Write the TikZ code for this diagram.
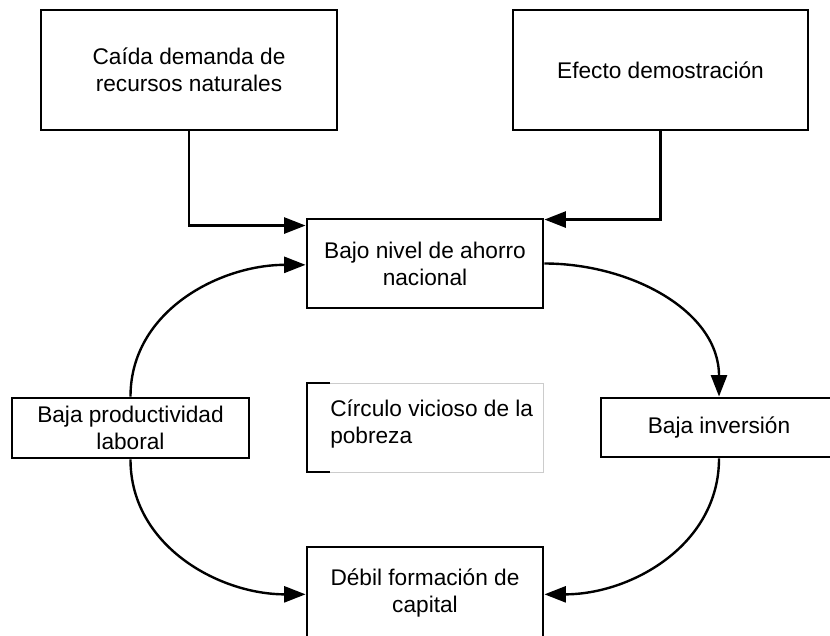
\documentclass[tikz,border=0pt]{standalone}
\usepackage{fontspec}
\setmainfont{Liberation Sans}
\usetikzlibrary{arrows.meta}

\tikzset{
	caja/.style={draw, line width=2.2pt, align=center, inner sep=0pt,
		minimum width=177pt, minimum height=66.75pt,
		font=\fontsize{17}{20.3}\selectfont},
	flecha/.style={line width=1.8pt, -{Triangle[length=16pt,width=12pt]}},
	marco/.style={draw=gray!40, line width=0.6pt},
}

\begin{document}
\begin{tikzpicture}[x=0.75pt, y=-0.75pt]
	\useasboundingbox (0,0) rectangle (830,635);

	\node[caja, minimum width=222pt, minimum height=90pt] (caida) at (189,70) {Caída demanda de\\recursos naturales};
	\node[caja, minimum width=221.25pt, minimum height=90pt] (efecto) at (660.5,70) {Efecto demostración};
	\node[caja] (ahorro) at (425,263.5) {Bajo nivel de ahorro\\nacional};
	\node[caja, minimum width=177.75pt, minimum height=45pt] (productividad) at (130.5,428) {Baja productividad\\laboral};
	\node[caja, minimum height=44.25pt] (inversion) at (719,427.5) {Baja inversión};
	\node[caja, minimum height=69pt] (capital) at (425,593) {Débil formación de\\capital};

	\node[anchor=west, align=left, inner sep=0pt, font=\fontsize{17}{20.3}\selectfont] (circulo) at (330,424) {Círculo vicioso de la\\pobreza};
	\draw[marco] (330,383) -- (543,383) -- (543,472) -- (330,472);
	\draw[line width=2pt] (330,383) -- (307,383) -- (307,472) -- (330,472);

	\draw[flecha] (caida.south) |- ([yshift=-6pt]ahorro.north west);
	\draw[flecha] (efecto.south) |- ([yshift=-1.5pt]ahorro.north east);
	\draw[flecha] (productividad.north) to[out=90, in=180] ([yshift=-1pt]ahorro.west);
	\draw[flecha] (ahorro.east) to[out=0, in=90] (inversion.north);
	\draw[flecha] (productividad.south) to[out=-90, in=180] ([yshift=-1pt]capital.west);
	\draw[flecha] (inversion.south) to[out=-90, in=0] ([yshift=-1pt]capital.east);
\end{tikzpicture}
\end{document}
